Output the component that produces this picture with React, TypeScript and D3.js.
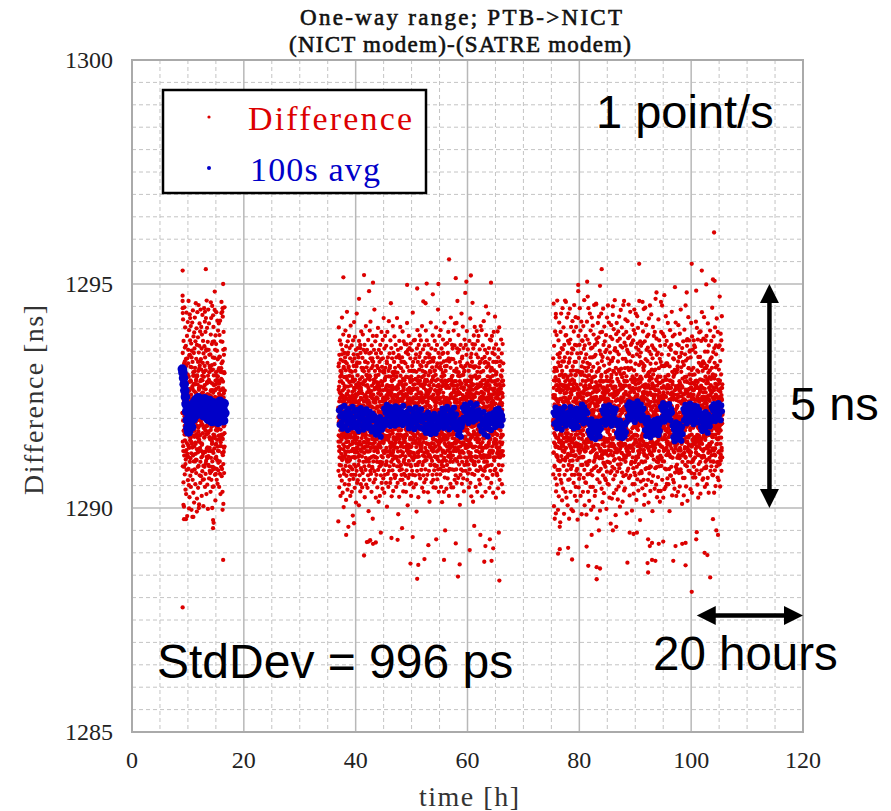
import React from "react";
import * as d3 from "d3";

// ---------- axis / tick data ----------
const X_DOMAIN = [0, 120];
const Y_DOMAIN = [1285, 1300];
const X_TICKS = [0, 20, 40, 60, 80, 100, 120];
const Y_TICKS = [1285, 1290, 1295, 1300];
const TITLE_LINES = ["One-way range; PTB->NICT", "(NICT modem)-(SATRE modem)"];
const LEGEND_LABELS = ["Difference", "100s avg"];

// ---------- measurement segments (hours) ----------
// red "Difference" samples: value = 1285 + code/100 ns, evenly sampled in time
const SEG1_SPAN = [9.05, 16.6];
const SEG2_SPAN = [36.9, 66.4];
const SEG3_SPAN = [75.3, 105.6];

const SEG1_RED = `
712 846 593 764 921 638 805 557 873 672 741 503 822 617 786 948 664 731 575 858 694 903 626 795 541
773 608 862 684 531 817 729 936 585 752 645 884 707 482 834 621 798 673 915 562 747 853 614 706 962
637 793 551 897 718 662 841 524 766 932 603 738 874 651 572 815 693 906 547 782 648 867 725 496 836
851 684 743 582 914 635 772 826 563 707 941 617 795 672 534 883 738 604 846 761 512 892 659 724 805
586 925 704 813 646 553 872 758 621 957 692 784 578 833 715 901 607 746 864 521 796 663 937 631 776
742 624 881 545 806 733 671 953 594 847 764 508 862 652 725 912 573 818 696 634 894 556 783 702 943
664 832 571 786 904 613 753 856 527 716 887 643 795 582 931 686 824 563 741 873 622 768 504 845 703
803 564 727 946 657 861 592 774 698 916 547 836 733 625 893 576 807 672 924 605 752 854 531 714 963
614 778 902 683 552 824 746 635 871 498 795 667 943 596 732 853 627 786 912 566 705 842 658 817 583
727 655 812 578 843 694 536 761 887 612 749 924 681 563 807 735 592 866 643 778 951 604 726 871 547
836 592 684 757 623 904 715 548 796 663 872 737 589 821 656 942 708 574 853 694 763 517 885 642 776
576 743 866 614 937 682 795 563 724 851 607 786 673 918 554 832 745 628 896 713 584 807 661 747 912
694 812 547 778 653 886 722 604 837 576 918 689 763 531 804 647 872 716 592 788 935 658 823 571 736
745 587 803 692 871 536 764 927 618 782 664 853 509 747 893 625 716 842 578 803 684 948 637 762 855`;

const SEG1_RED_B = `
712 648 783 695 627 754 808 673 736 592 761 704 683 827 651 742 719 598 776 664 833 707 629 758 691
668 735 614 797 702 684 759 641 823 716 587 748 673 781 634 706 762 659 842 693 727 611 785 657 738
753 622 709 676 814 643 731 698 584 766 687 745 619 803 728 662 691 777 637 719 856 673 742 604 795
697 776 643 729 608 787 665 718 754 683 631 794 708 657 745 592 826 679 739 714 648 768 696 627 812
738 661 827 684 749 603 712 771 645 693 809 627 756 688 641 733 702 785 616 667 758 723 594 804 679
624 793 701 658 734 817 676 626 748 713 682 765 599 728 851 664 707 742 633 781 695 611 754 687 726
782 695 616 744 671 728 593 803 689 752 634 719 781 653 702 816 674 627 763 709 582 736 692 819 648
656 718 763 627 809 689 741 664 712 587 774 698 633 835 716 659 748 693 611 784 727 674 803 643 766
724 587 746 693 652 779 712 637 794 678 743 601 769 704 627 755 691 838 662 716 783 638 707 751 675
689 751 638 812 719 664 703 786 623 738 691 827 654 767 709 598 743 682 756 634 712 801 667 729 694`;

const SEG2_RED = `
724 583 816 662 903 637 771 546 842 695 613 758 874 572 704 793 648 527 831 682 747 595 865 621 783
653 804 561 738 925 607 716 853 672 534 762 828 586 694 887 631 745 502 815 668 576 792 713 846 614
772 553 684 836 625 743 896 594 663 807 726 518 861 647 572 754 823 695 938 603 786 657 541 714 872
636 847 703 582 761 614 816 675 552 884 738 626 795 563 857 683 742 607 834 527 726 664 907 591 773
805 574 672 748 627 863 536 715 794 643 586 827 696 751 483 632 874 703 565 782 658 843 614 736 915
597 763 834 667 545 726 882 613 694 806 574 747 645 853 512 775 628 704 816 583 934 676 752 556 825
683 624 796 562 857 714 643 775 596 836 667 734 506 873 605 756 692 824 573 648 787 726 864 537 706
846 672 553 768 627 894 705 584 813 656 743 615 792 546 727 835 663 578 887 634 712 776 603 853 685
563 738 805 647 716 593 864 676 524 783 637 826 694 752 585 847 612 906 663 725 552 797 645 814 743
715 853 606 684 774 545 637 824 736 573 875 652 707 493 806 626 763 594 845 672 734 563 896 627 786
662 794 583 916 703 635 847 576 752 687 812 536 726 863 614 773 654 592 834 706 745 476 884 643 697
826 604 738 557 786 672 853 627 714 943 582 765 646 806 693 564 872 735 613 796 523 667 845 704 634
574 747 884 653 603 817 726 546 774 695 836 624 902 585 756 663 797 514 716 853 636 683 764 592 826
737 646 527 806 673 864 594 752 635 713 573 846 684 783 616 893 556 724 667 815 602 774 706 543 875
613 834 697 763 566 725 645 924 584 807 746 662 534 856 704 623 785 574 884 657 736 813 596 675 764
793 556 862 634 716 604 827 685 503 774 653 893 626 745 576 836 697 763 615 547 806 724 658 917 583
684 772 627 845 593 736 663 817 556 707 874 634 793 565 752 686 603 857 724 646 526 784 672 834 617
746 584 803 667 906 624 765 538 715 846 654 596 787 693 826 574 733 883 615 676 752 567 813 645 704
635 864 716 573 794 652 547 836 703 614 765 687 924 593 746 664 802 556 717 853 626 774 486 737 673
817 603 756 694 525 873 646 782 584 726 834 615 673 904 563 795 706 637 857 596 744 662 826 574 715
586 727 836 645 774 563 894 683 746 624 805 537 763 654 872 603 714 826 576 692 785 647 554 866 733
704 656 572 823 615 754 676 847 536 793 634 716 584 865 726 663 913 597 764 642 815 506 737 685 853
843 567 694 765 634 884 605 724 806 574 673 857 626 745 553 786 657 834 703 596 867 636 756 527 794
624 783 735 556 852 674 583 817 697 763 645 936 574 716 826 607 684 775 546 874 663 734 612 806 695
766 683 614 875 573 712 834 645 596 787 726 553 843 674 636 804 492 745 697 856 583 764 624 897 655
596 826 675 746 643 524 793 704 864 615 756 683 574 837 726 603 885 652 784 566 714 846 637 675 773
874 634 776 585 707 816 627 754 664 906 545 735 806 596 683 772 617 854 703 573 647 826 724 536 795
655 746 557 804 686 863 714 605 776 634 835 586 727 673 896 564 753 645 817 694 607 786 874 626 734
713 574 845 626 754 676 535 824 707 643 796 864 615 746 583 774 667 843 514 726 636 806 685 764 596
803 664 725 914 596 767 634 693 856 557 716 784 645 605 834 703 574 746 885 654 793 626 563 827 676
546 774 643 835 716 584 806 663 737 873 615 684 763 594 853 726 637 545 784 676 903 614 745 816 575
736 626 864 695 564 823 756 614 787 665 943 586 714 846 643 775 536 694 813 604 757 884 634 706 653
687 815 575 746 633 897 704 665 823 547 784 617 735 856 596 668 772 513 844 705 627 793 654 583 876
624 757 846 593 703 664 827 536 775 686 914 645 734 568 816 697 623 865 742 584 806 653 727 605 768
775 543 694 817 653 736 596 868 628 783 707 566 846 675 744 615 893 583 714 834 645 527 786 663 827
587 706 786 634 875 603 745 683 554 813 664 925 726 617 776 546 833 694 637 756 586 864 705 643 795
856 664 617 773 546 832 705 627 896 673 744 585 806 635 716 863 563 783 654 912 608 737 676 824 573
644 783 727 586 804 673 913 556 735 647 856 604 693 774 527 847 716 635 795 567 724 886 613 754 685
726 597 853 664 736 615 783 507 826 694 637 776 574 864 706 646 817 586 743 675 934 625 796 554 834
603 838 674 752 583 905 646 726 813 566 695 857 623 764 537 804 683 743 596 876 717 655 784 613 747
817 676 583 864 715 634 776 652 597 842 726 604 895 684 746 563 823 675 713 636 854 577 763 694 625
665 724 806 546 783 696 623 873 735 586 817 664 747 614 923 556 705 836 643 764 607 786 526 844 716
754 614 697 826 576 743 866 605 685 793 635 514 776 856 664 724 597 885 636 753 816 574 704 667 904
596 865 736 615 796 653 547 816 704 766 627 843 686 584 734 895 614 776 656 536 804 725 647 873 685
836 583 724 667 884 604 756 636 814 563 793 706 624 854 677 745 553 826 697 617 772 906 643 714 587
675 742 613 897 634 776 694 526 833 706 647 785 573 863 724 656 806 584 746 634 917 676 755 603 824
724 656 837 583 706 853 617 764 674 536 826 696 743 604 886 635 773 567 814 683 726 594 846 663 737
613 794 566 745 823 674 934 595 716 784 646 857 703 624 766 545 833 686 614 876 745 583 697 806 654
785 626 704 874 556 736 667 813 596 753 884 637 725 663 846 574 706 795 627 534 826 686 754 613 893
647 856 695 606 767 584 843 716 654 927 613 776 587 826 694 746 523 865 723 636 803 665 577 784 716
826 573 744 663 894 625 707 786 544 836 677 614 765 854 596 724 683 903 635 776 563 817 704 647 756
694 735 616 827 657 766 584 876 706 623 793 664 845 553 734 807 646 756 595 866 627 703 784 535 823`;

const SEG2_RED_B = `
703 648 764 691 823 627 738 714 596 782 659 745 673 806 632 719 754 688 611 797 727 664 843 705 682
751 614 729 683 778 642 697 812 659 738 584 766 709 637 792 673 748 619 826 694 733 656 771 608 745
667 793 708 626 754 689 843 635 722 771 648 695 813 604 738 662 781 717 593 749 684 806 641 729 698
782 657 695 747 613 736 676 804 693 628 759 721 648 788 706 574 743 669 817 632 768 701 654 736 612
624 741 786 663 709 592 754 687 736 652 821 678 714 635 769 703 657 842 689 726 614 779 693 641 758
739 681 618 773 698 764 631 718 857 674 703 746 589 762 641 729 694 778 626 713 756 683 807 667 722
693 812 664 729 647 705 782 623 748 696 634 785 713 668 827 657 739 604 773 691 748 627 712 796 653
758 626 734 608 789 652 716 768 685 739 603 727 796 644 704 758 611 687 749 672 834 708 663 727 689
634 761 697 746 667 828 589 703 643 817 724 661 753 692 616 779 736 653 708 786 635 697 768 614 742
707 673 792 635 722 689 746 659 781 612 693 766 628 744 703 687 812 641 726 658 779 714 602 763 681
772 639 711 684 763 603 728 697 646 754 832 673 709 597 738 664 781 716 653 697 744 627 803 684 729
648 747 623 802 676 738 661 789 714 677 628 743 686 768 654 719 597 752 697 823 661 708 745 672 616
716 684 758 652 731 794 617 672 753 706 691 812 646 713 771 638 694 763 621 738 683 757 696 638 784
691 773 642 719 608 766 703 744 629 796 658 723 681 637 804 752 676 612 739 691 803 647 732 769 657
739 612 793 681 748 657 721 634 688 752 713 606 767 729 663 696 841 682 728 654 717 593 779 703 743
663 728 687 759 627 812 674 707 782 643 738 693 754 618 687 743 659 789 713 636 769 704 662 748 608
786 697 648 713 776 684 598 753 664 729 776 637 703 848 672 628 751 697 744 683 627 792 718 676 733
622 758 717 641 693 737 768 618 728 694 653 781 726 669 742 593 714 763 637 806 689 741 613 697 766
743 666 786 704 653 623 747 691 806 659 717 744 618 776 698 734 662 708 788 649 723 674 753 721 682
692 731 614 767 726 784 667 734 623 778 602 689 758 693 627 809 676 647 739 714 661 819 698 631 747
758 642 706 683 639 718 792 657 743 701 664 827 684 747 658 712 776 603 768 688 738 623 709 782 664
614 786 673 748 802 656 697 763 688 627 758 703 643 719 783 665 738 692 621 754 699 746 668 713 836
728 695 759 618 714 763 638 826 672 746 694 612 781 664 707 748 629 684 814 673 634 787 742 657 701
681 753 632 794 667 702 744 596 719 683 807 738 652 729 614 797 705 761 663 736 708 681 594 772 649
746 608 719 688 753 629 687 772 641 763 718 659 742 693 836 647 688 733 706 587 764 719 652 809 688
673 794 651 736 604 781 716 663 802 628 692 748 607 773 658 724 612 796 679 742 653 784 729 641 713
717 662 783 697 746 673 829 708 637 714 773 681 724 656 769 704 743 668 738 617 697 829 674 768 632
639 734 706 624 688 753 611 749 697 786 642 717 793 638 701 782 656 721 603 774 712 668 747 693 759
764 687 628 773 719 646 736 684 758 609 738 664 703 751 627 688 811 742 676 649 766 703 631 726 689
698 759 716 652 803 693 758 627 713 672 794 623 756 684 743 657 729 613 768 697 624 743 778 658 712
627 712 769 688 641 734 673 797 646 748 688 769 642 718 674 806 693 748 659 721 783 634 706 749 673
783 641 697 739 756 612 784 706 669 723 651 736 687 597 753 719 638 772 704 688 646 758 692 617 794
654 768 623 707 682 779 658 743 816 637 707 681 774 659 728 637 764 686 748 603 735 671 813 683 727
721 603 748 794 637 708 726 654 699 768 613 757 694 728 789 662 703 627 791 676 711 769 648 738 667
688 726 681 653 774 664 823 696 737 592 779 713 643 803 636 748 684 759 612 742 688 627 757 704 749
744 679 734 712 618 746 687 612 768 704 664 727 786 683 709 591 776 718 676 767 639 702 684 779 617
603 747 658 781 693 726 637 761 694 742 818 643 708 754 618 774 652 698 729 628 792 746 668 721 693
767 688 812 627 746 673 708 782 623 687 731 697 664 739 763 689 718 807 643 714 671 783 732 646 758
696 733 649 716 684 798 652 719 754 643 699 774 622 687 747 704 633 763 686 759 617 698 754 687 729
731 624 776 698 613 742 769 673 708 796 627 688 758 712 642 729 783 661 719 694 748 663 703 617 774`;

const SEG3_RED = `
693 834 575 746 956 624 785 504 862 667 726 594 813 476 752 643 894 705 566 792 636 925 684 537 774
743 616 886 675 552 806 714 963 637 764 585 843 697 496 736 825 606 874 653 526 783 707 914 574 836
585 796 664 846 723 468 765 634 893 563 817 686 934 616 744 556 857 705 646 517 806 673 774 946 627
854 706 543 772 645 903 594 736 827 487 683 864 625 756 574 836 714 963 606 783 536 885 667 745 694
634 886 757 523 815 676 584 925 704 765 616 846 506 794 657 873 563 736 934 686 824 596 715 476 867
776 564 834 694 945 605 746 656 876 536 724 806 587 904 663 765 497 845 626 713 574 856 787 646 917
606 816 674 493 763 854 627 726 556 894 686 784 953 637 574 826 706 527 864 745 616 796 664 926 547
826 645 904 716 583 775 516 863 664 734 607 845 696 474 806 636 756 924 575 703 884 546 764 656 835
565 754 686 864 623 946 735 574 804 667 896 527 776 635 846 706 596 916 727 486 816 654 746 874 614
716 873 596 784 536 826 674 906 614 756 567 855 646 724 964 585 796 506 863 685 626 834 736 557 774
884 627 765 556 843 694 485 806 653 737 916 596 824 706 575 876 634 767 536 814 664 946 604 754 686
656 796 516 867 726 605 774 934 576 836 684 754 547 896 624 716 856 496 785 646 806 584 925 704 736
791 573 858 672 907 547 743 629 815 503 768 887 631 705 589 953 662 838 607 732 527 864 699 771 614
538 842 702 618 781 956 593 877 684 759 622 804 477 733 869 564 697 823 641 913 718 582 762 668 881
763 661 927 582 738 812 633 557 851 709 494 774 627 892 673 748 587 843 719 934 612 797 543 683 828
619 893 747 642 513 837 691 782 573 945 728 601 864 657 762 533 818 684 905 597 753 638 872 721 566
848 592 677 803 758 562 886 621 739 498 853 687 793 581 925 713 648 772 554 834 669 952 603 743 709
674 763 552 914 638 861 717 523 809 655 784 601 847 733 578 882 691 465 829 627 753 908 582 797 644
737 521 828 694 877 592 768 653 931 617 703 835 564 748 672 899 533 804 639 771 588 852 725 964 609
573 857 632 771 708 484 813 739 665 888 541 799 692 913 628 754 849 581 717 659 873 519 762 827 683
894 687 782 548 843 728 611 927 589 804 662 741 878 503 776 633 709 862 598 942 735 647 811 557 768
623 739 903 664 579 792 858 691 514 767 833 608 719 953 642 571 887 723 668 801 539 784 693 869 613
782 544 718 833 687 921 603 759 862 574 679 893 632 794 488 827 701 618 853 742 583 917 652 729 848
663 879 588 731 954 621 808 567 722 844 619 773 528 883 697 758 634 938 572 811 703 669 864 598 743
812 639 764 602 868 494 737 909 658 781 553 839 704 627 874 589 762 681 532 897 643 807 728 943 579
553 788 682 889 713 648 573 822 749 934 607 701 858 663 518 797 724 592 843 677 928 564 753 638 867
729 902 613 778 539 853 684 742 598 819 652 962 577 721 838 624 789 473 872 708 631 793 559 847 692
862 582 747 653 824 578 913 703 639 772 544 868 683 758 602 894 648 813 737 563 944 629 774 507 718
643 817 529 872 693 768 604 947 723 587 832 679 794 551 908 713 637 853 589 743 688 883 612 769 828
753 672 858 563 798 633 887 512 774 708 923 628 732 849 577 682 804 659 952 593 767 538 822 704 637
592 843 719 932 624 752 558 809 684 863 617 778 493 834 727 643 904 572 798 662 857 714 608 884 748
807 628 772 688 543 893 729 634 853 589 763 967 662 719 823 552 787 643 878 604 738 842 524 699 773
684 752 613 847 701 569 793 664 921 538 746 812 627 689 874 593 758 642 833 514 779 698 862 617 734
538 826 748 637 893 672 594 768 843 612 707 952 563 782 653 728 889 604 743 678 523 817 693 758 632
769 604 883 542 736 658 817 709 588 864 632 793 714 547 928 673 748 586 823 697 634 873 554 786 648
823 693 566 774 648 913 732 623 797 679 553 842 618 767 704 587 859 742 493 816 664 729 897 573 706
614 784 697 853 572 743 864 592 718 633 938 682 758 528 804 647 776 612 883 708 563 834 742 657 793
746 557 832 679 624 798 543 887 658 763 704 579 847 718 638 914 592 772 683 846 527 709 653 803 587
597 866 643 728 809 584 753 698 536 827 682 908 617 749 863 578 694 837 629 762 713 548 889 634 778
838 629 774 586 943 702 663 814 579 733 846 618 693 772 509 857 734 603 789 648 826 567 707 872 652
663 742 528 819 687 754 623 898 567 792 714 636 843 596 727 683 952 612 764 829 548 697 783 658 874
728 593 862 704 648 877 516 763 684 834 603 749 926 657 583 812 738 629 874 697 766 583 849 623 707
852 674 617 787 542 836 693 768 624 913 729 578 808 664 747 534 883 716 642 797 603 853 689 764 568
607 813 753 649 874 592 728 863 687 576 798 644 734 859 613 702 568 847 768 632 916 696 623 784 742
773 648 584 902 728 663 807 552 743 692 876 619 768 523 837 678 754 598 824 713 643 892 576 738 659
648 759 837 603 763 532 894 679 818 647 723 873 584 703 786 654 937 612 748 679 823 563 806 689 724
827 566 704 878 617 784 663 743 926 589 823 694 632 766 547 849 718 652 793 603 874 737 589 812 678
593 884 668 733 553 817 726 608 787 674 849 567 912 688 743 623 802 679 534 863 708 768 643 827 612
718 627 807 674 896 643 763 583 833 712 604 788 663 873 593 729 836 618 758 682 947 574 792 658 747
664 798 573 848 718 604 883 743 628 763 534 857 698 619 824 747 584 903 633 777 692 549 814 726 863
843 716 642 769 593 923 678 749 602 818 684 737 568 893 653 786 708 624 859 562 743 809 678 597 784
627 778 863 598 736 673 548 828 759 643 889 606 723 798 657 874 583 744 634 928 697 768 613 853 708`;

const SEG3_RED_B = `
684 752 697 623 768 714 646 805 678 731 592 747 703 662 784 719 638 693 812 657 741 689 618 763 706
729 613 774 688 742 657 719 786 634 702 769 647 728 817 681 743 604 758 697 633 776 715 668 724 649
641 798 663 716 827 694 608 738 763 679 714 638 792 656 703 747 682 629 774 718 657 797 683 738 612
767 684 721 649 703 773 659 697 724 613 788 702 667 742 621 689 768 734 651 709 826 642 748 697 783
703 637 758 694 618 729 797 633 753 687 648 761 719 594 776 651 714 807 673 738 688 617 769 654 719
656 779 689 737 764 642 708 684 618 797 709 673 806 687 742 664 733 587 721 769 643 706 752 691 628
748 692 612 803 673 718 754 726 683 641 747 627 683 748 613 797 683 758 639 693 744 673 803 728 664
613 724 747 662 739 686 631 771 708 763 682 813 648 706 768 636 709 643 783 718 602 754 687 637 752
794 668 703 728 597 756 712 647 786 654 726 697 741 657 729 683 821 674 732 658 769 713 648 716 689
672 746 638 781 706 663 836 698 627 719 758 638 713 792 662 747 603 718 697 742 631 688 763 794 642
726 613 769 654 748 729 677 741 763 684 616 774 697 658 728 703 772 639 806 674 718 653 742 611 737
658 783 707 693 632 784 614 703 658 793 742 692 653 747 611 768 688 757 627 713 783 694 621 769 703
743 697 652 746 718 647 758 691 736 627 708 766 624 784 693 654 732 688 744 603 759 671 806 687 648
617 738 783 629 687 711 693 822 679 753 663 718 689 737 774 619 704 643 791 682 727 638 713 754 696
782 656 713 768 643 806 637 714 748 606 729 689 761 624 706 758 683 769 658 724 697 752 633 687 741
694 726 624 702 788 669 743 684 597 758 694 643 808 697 654 719 628 741 703 639 773 608 764 718 673
653 798 747 681 738 623 689 767 713 676 742 721 639 773 681 747 697 618 754 772 656 726 688 643 812
737 642 696 754 612 773 708 634 753 698 627 783 694 716 628 691 813 673 709 637 738 694 751 697 624
708 769 639 713 697 746 654 827 669 721 787 656 729 603 764 698 659 732 678 794 613 768 632 744 766
641 713 781 663 758 688 734 602 743 784 653 701 776 689 743 614 723 767 646 701 749 682 717 661 703
786 674 627 739 694 619 762 708 689 637 718 768 643 727 698 781 652 694 826 653 718 739 604 788 658
662 748 703 687 822 741 667 753 629 807 679 622 759 684 617 746 704 639 757 689 643 776 697 724 731
719 617 758 643 706 677 796 641 712 753 696 739 688 802 673 731 589 784 669 728 792 621 758 673 647
673 792 684 737 653 724 618 789 687 664 724 647 773 638 753 692 767 708 631 744 684 704 643 737 694
753 643 712 809 689 763 687 704 646 738 591 784 707 663 724 648 718 659 793 602 763 688 732 652 779
608 737 658 694 743 608 749 666 793 718 659 727 638 749 697 817 683 741 687 723 636 752 689 784 716
744 684 772 627 714 682 732 629 708 751 692 663 786 711 653 706 734 676 618 766 703 647 819 708 642
688 757 713 669 627 796 658 773 684 643 768 703 619 738 784 672 639 698 754 687 729 768 664 716 743
727 613 693 748 782 646 717 698 754 692 627 752 693 664 707 753 719 808 643 714 653 697 743 633 687
649 768 741 702 659 723 693 612 727 816 704 682 747 628 773 618 766 672 738 694 783 611 704 764 698
776 694 628 758 703 687 804 749 643 679 738 617 714 769 682 739 652 707 621 753 688 743 674 727 653
697 632 782 673 741 614 758 686 712 763 648 793 681 647 728 697 781 634 756 709 627 764 719 689 812
642 719 697 736 662 798 626 723 778 639 702 678 754 717 602 769 693 743 688 637 779 694 652 748 707
763 679 744 609 719 763 693 658 697 742 776 643 708 688 783 653 709 624 772 713 658 704 768 637 683
704 748 654 781 694 652 739 804 618 713 662 729 767 636 743 701 673 787 647 729 693 742 616 773 726
631 693 817 688 643 729 684 741 768 697 627 758 689 713 659 748 614 733 692 684 812 678 743 708 658
758 724 663 714 778 607 748 669 702 638 784 694 632 779 704 681 751 707 663 743 721 637 792 674 739
689 641 752 697 626 774 713 683 757 673 722 647 813 688 726 633 797 658 728 769 603 713 682 746 697
742 789 678 633 748 691 617 796 664 728 753 684 719 656 692 748 673 712 643 738 776 654 724 603 763
667 703 736 762 688 742 657 718 683 784 612 709 748 673 619 767 708 687 752 628 697 741 689 776 712`;

// sparse red outliers: [time h, value ns]
const SEG1_OUTLIERS = [
  [9.06, 1295.3], [13.2, 1295.33], [16.3, 1295.0], [14.8, 1294.83], [9.05, 1294.74],
  [9.05, 1294.62], [9.07, 1294.46], [9.08, 1294.35], [14.1, 1294.59], [13.05, 1294.38],
  [16.0, 1294.6], [16.2, 1294.46], [16.15, 1294.38], [14.5, 1294.3], [10.4, 1294.24],
  [9.2, 1290.07], [9.3, 1289.75], [10.97, 1289.8], [14.5, 1289.55], [14.6, 1289.67],
  [14.35, 1290.0], [11.95, 1290.0], [16.3, 1288.84], [9.06, 1287.78], [9.65, 1289.75],
  [11.6, 1289.92], [14.5, 1289.73], [16.2, 1289.96], [10.2, 1289.99], [10.8, 1289.8],
];
const SEG2_OUTLIERS = [
  [37.8, 1295.15], [56.7, 1295.55], [43.1, 1295.03], [49.2, 1294.98], [52.7, 1295.01],
  [54.8, 1295.0], [57.9, 1295.13], [60.6, 1295.19], [59.8, 1295.05], [64.2, 1295.03],
  [42.4, 1294.84], [51.0, 1294.9], [53.8, 1294.77], [59.6, 1294.8], [40.6, 1294.67],
  [52.1, 1294.61], [52.5, 1294.57], [58.2, 1294.62], [60.9, 1294.58], [63.3, 1294.5],
  [46.3, 1294.57], [41.5, 1295.2],
  [36.9, 1289.7], [38.7, 1289.58], [39.7, 1289.66], [41.5, 1288.94], [42.0, 1289.24],
  [42.6, 1289.28], [43.1, 1289.2], [46.4, 1289.33], [47.5, 1289.29], [49.8, 1288.76],
  [51.2, 1288.73], [51.0, 1288.42], [52.3, 1288.86], [53.0, 1289.17], [54.4, 1289.3],
  [56.0, 1289.5], [55.8, 1288.84], [57.9, 1289.21], [58.3, 1288.47], [58.6, 1288.74],
  [60.4, 1289.06], [61.2, 1289.6], [63.0, 1288.8], [64.3, 1288.82], [63.2, 1289.15],
  [64.0, 1289.3], [64.6, 1289.1], [65.6, 1289.45], [65.7, 1288.38], [42.3, 1289.25],
  [43.6, 1289.23], [38.3, 1289.4], [44.5, 1289.45], [48.3, 1289.55], [50.2, 1289.35],
  [62.3, 1289.4],
];
const SEG3_OUTLIERS = [
  [90.7, 1295.45], [100.1, 1295.45], [84.0, 1295.33], [101.9, 1295.3], [103.9, 1295.1],
  [104.2, 1295.07], [81.4, 1295.05], [79.8, 1294.98], [79.8, 1294.84], [83.7, 1294.96],
  [102.7, 1294.99], [97.1, 1294.93], [99.2, 1294.81], [100.9, 1294.85], [93.8, 1294.81],
  [95.2, 1294.75], [81.5, 1294.72], [105.1, 1294.72], [104.1, 1296.15], [77.6, 1294.6],
  [88.0, 1294.62], [91.3, 1294.6], [94.6, 1294.6], [86.0, 1294.5], [75.8, 1294.33],
  [83.0, 1294.55],
  [75.8, 1289.88], [76.5, 1289.58], [76.5, 1289.08], [78.0, 1289.11], [78.7, 1288.85],
  [76.2, 1288.98], [81.3, 1289.14], [81.6, 1288.71], [83.1, 1288.68], [83.7, 1288.65],
  [83.1, 1288.41], [82.2, 1289.4], [83.5, 1289.5], [86.0, 1289.5], [86.6, 1289.58],
  [88.6, 1288.78], [89.0, 1289.45], [89.7, 1289.42], [90.3, 1289.45], [92.3, 1289.3],
  [93.0, 1289.22], [94.2, 1289.2], [95.0, 1289.25], [92.6, 1289.15], [92.2, 1288.77],
  [93.0, 1288.84], [93.6, 1288.82], [92.3, 1288.56], [96.8, 1288.82], [97.2, 1289.15],
  [98.4, 1289.2], [99.0, 1289.22], [99.0, 1288.72], [100.1, 1288.13], [100.9, 1289.3],
  [101.0, 1289.46], [102.4, 1289.0], [102.9, 1288.95], [103.4, 1288.45], [104.5, 1289.5],
  [104.8, 1289.4], [103.9, 1289.75],
];

// blue "100s avg": value = 1290 + code/100 ns, evenly sampled in time
const BLUE1_SPAN = [9.0, 16.6];
const BLUE2_SPAN = [37.0, 66.3];
const BLUE3_SPAN = [75.4, 105.5];

const SEG1_BLUE = `
310 302 290 276 262 248 232 215 196 178 170 186 205 222 194 181 210 228 199 215
237 224 208 243 230 219 246 233 212 238 225 241 218 232 206 227 244 214 236 221
209 232 198 224 240 215 203 229 193 217 235 208 222 197 213 230 204 219 191 226
211 238 199 216 228 205 220 195 233 212`;

const SEG2_BLUE = `
218 186 205 224 191 177 210 199 228 183 203 215 194 174 221 206 188 212 197 180 226 201 192 216 185
204 178 219 190 172 208 197 223 184 201 214 175 193 211 187 220 198 179 206 192 215 181 203 171 210
196 172 205 181 164 193 177 199 168 186 203 159 190 175 197 182
222 197 213 186 230 204 191 217 208 183 225 199 211 190 219 205 184 227 196 214 202 188 223 209 193 216 200 185 228 207 194 212 198
214 189 207 178 222 196 203 185 219 194 211 176 205 224 190 201 182 216 197 208 179 220 193 206
198 175 207 186 168 201 182 213 171 194 188 165 205 179 196 173 210 184 167 199 187 176 203 181 192
211 187 203 222 194 179 215 198 207 184 226 192 205 176 218 201 189 213 196 181 224 203 190 209
175 192 163 184 170 197 159 181 188
224 202 217 231 196 213 226 205 190 219 208 234 199 221 211 193 228 206 215 197 232 210 201 218
207 183 201 172 196 188 214 165 193 179 205 186 160 198 177 209 189 174 200 192
212 189 205 181 219 196 208 185 222 199 191 214 184 206 197`;

const SEG3_BLUE = `
213 188 207 224 192 178 216 201 185 221 196 209 175 218 203 190 226 198 184 211 194 206
189 214 198 225 183 207 193 219 178 204 212 187 222 196 181 210 201
220 196 214 231 203 189 225 209 198 217 192 212
195 172 188 163 182 198 157 176 191 168 185 154 179 193 166 186 171 160 189 177 194
218 193 211 227 199 186 220 207 214 190 229 202 196 216 184 223 205 192 212 198 221
191 167 184 158 176 195 163 181 171 156 188 174 160 186 169 192
229 204 221 236 210 198 226 214 233 205 219 192 228 211 203 238 216 200 224 209 231 196 218 207 222
198 174 190 161 185 201 169 182 194 158 177 192 171 187 164 196 180 167 189 176 199 163 184 172 191
226 201 219 234 206 193 224 211 229 198 215 204 232 209 196 221 213
184 158 176 149 168 191 162 179 153 172 187 160 174 150 181 165
221 196 214 230 203 189 225 209 218 194 233 206 199 224 212 187 228 201 215 195 227 207 191 219 210
206 180 198 172 211 189 201 176 214 185 195 168 208 190 182 203 193
225 199 218 232 206 194 227 211 220 201 234 208 215 196 229 216`;

const RED = "#dc0000";
const BLUE = "#0000c8";

function parseCodes(s: string): number[] {
  return s.trim().split(/\s+/).map(Number);
}
function sampled(codes: string, span: number[], base: number, div: number) {
  const c = parseCodes(codes);
  const n = c.length;
  return c.map((v, i) => [span[0] + ((span[1] - span[0]) * i) / (n - 1), base + v / div]);
}

export default function App() {
  const x = d3.scaleLinear().domain(X_DOMAIN).range([132, 803]);
  const y = d3.scaleLinear().domain(Y_DOMAIN).range([732, 60]);
  const [x0, x1] = x.range();
  const [y0, y1] = y.range();

  const red = [
    ...sampled(SEG1_RED, SEG1_SPAN, 1285, 100),
    ...sampled(SEG1_RED_B, SEG1_SPAN, 1285, 100),
    ...sampled(SEG2_RED, SEG2_SPAN, 1285, 100),
    ...sampled(SEG2_RED_B, SEG2_SPAN, 1285, 100),
    ...sampled(SEG3_RED, SEG3_SPAN, 1285, 100),
    ...sampled(SEG3_RED_B, SEG3_SPAN, 1285, 100),
    ...SEG1_OUTLIERS,
    ...SEG2_OUTLIERS,
    ...SEG3_OUTLIERS,
  ];
  const blueBig = sampled(SEG1_BLUE, BLUE1_SPAN, 1290, 100);
  const blueSmall = [
    ...sampled(SEG2_BLUE, BLUE2_SPAN, 1290, 100),
    ...sampled(SEG3_BLUE, BLUE3_SPAN, 1290, 100),
  ];

  const xMinor = d3.range(0, 120.001, 5).filter((v) => v % 20 !== 0);
  const yMinor = d3.range(1285, 1300.001, 0.5).filter((v) => Math.abs(v % 5) > 1e-6);
  const xMajor = X_TICKS.slice(1, -1);
  const yMajor = Y_TICKS.slice(1, -1);

  const serif = "'Liberation Serif', 'Times New Roman', serif";
  const sans = "'Liberation Sans', Arial, sans-serif";

  // arrows (annotation)
  const vArrowX = x(114);
  const vTop = y(1295);
  const vBot = y(1290);
  const hY = y(1287.6);
  const hL = x(101);
  const hR = x(120);
  const ah = 19;
  const aw = 9.5;

  return (
    <svg
      width={891}
      height={811}
      style={{ position: "absolute", left: 0, top: 0, background: "#fff" }}
    >
      <rect x={0} y={0} width={891} height={811} fill="#fff" />
      {/* grid */}
      <g>
        {xMinor.map((v) => (
          <line key={"xm" + v} x1={x(v)} x2={x(v)} y1={y1} y2={y0} stroke="#c4c4c4" strokeWidth={1} strokeDasharray="4,3" />
        ))}
        {yMinor.map((v) => (
          <line key={"ym" + v} x1={x0} x2={x1} y1={y(v)} y2={y(v)} stroke="#c4c4c4" strokeWidth={1} strokeDasharray="4,3" />
        ))}
        {xMajor.map((v) => (
          <line key={"xM" + v} x1={x(v)} x2={x(v)} y1={y1} y2={y0} stroke="#b8b8b8" strokeWidth={1.5} />
        ))}
        {yMajor.map((v) => (
          <line key={"yM" + v} x1={x0} x2={x1} y1={y(v)} y2={y(v)} stroke="#b8b8b8" strokeWidth={1.5} />
        ))}
        <rect x={x0} y={y1} width={x1 - x0} height={y0 - y1} fill="none" stroke="#aaaaaa" strokeWidth={2} />
      </g>

      {/* data */}
      <g fill={RED}>
        {red.map((p, i) => (
          <circle key={"r" + i} cx={x(p[0])} cy={y(p[1])} r={2.15} />
        ))}
      </g>
      <g fill={BLUE}>
        {blueSmall.map((p, i) => (
          <circle key={"b" + i} cx={x(p[0])} cy={y(p[1])} r={3.1} />
        ))}
        {blueBig.map((p, i) => (
          <circle key={"B" + i} cx={x(p[0])} cy={y(p[1])} r={4.8} />
        ))}
      </g>

      {/* tick labels */}
      {Y_TICKS.map((v) => (
        <text key={"yt" + v} x={113} y={y(v)} textAnchor="end" dominantBaseline="central" fontFamily={serif} fontSize={24} fill="#222">
          {v}
        </text>
      ))}
      {X_TICKS.map((v) => (
        <text key={"xt" + v} x={x(v)} y={760} textAnchor="middle" dominantBaseline="central" fontFamily={serif} fontSize={24} fill="#222">
          {v}
        </text>
      ))}

      {/* axis titles */}
      <text x={469} y={806} textAnchor="middle" fontFamily={serif} fontSize={28} fill="#333" textLength={100}>
        time [h]
      </text>
      <text
        transform={`translate(43, ${400}) rotate(-90)`}
        textAnchor="middle"
        fontFamily={serif}
        fontSize={28}
        fill="#333"
        textLength={190}
      >
        Difference [ns]
      </text>

      {/* title */}
      <text x={461} y={25} textAnchor="middle" fontFamily={serif} fontSize={23} fill="#111" stroke="#111" strokeWidth={0.6} textLength={322}>
        {TITLE_LINES[0]}
      </text>
      <text x={460} y={52} textAnchor="middle" fontFamily={serif} fontSize={23} fill="#111" stroke="#111" strokeWidth={0.6} textLength={342}>
        {TITLE_LINES[1]}
      </text>

      {/* legend */}
      <rect x={163} y={90} width={263} height={103} fill="#fff" stroke="#000" strokeWidth={2.5} />
      <circle cx={209} cy={117} r={1.6} fill={RED} />
      <circle cx={209} cy={168} r={2} fill={BLUE} />
      <text x={248} y={130} fontFamily={serif} fontSize={34} fill={RED} textLength={164}>
        {LEGEND_LABELS[0]}
      </text>
      <text x={250} y={181} fontFamily={serif} fontSize={34} fill={BLUE} textLength={130}>
        {LEGEND_LABELS[1]}
      </text>

      {/* annotations */}
      <text x={596} y={128} fontFamily={sans} fontSize={47} fill="#000">
        1 point/s
      </text>
      <text x={790} y={420} fontFamily={sans} fontSize={47} fill="#000">
        5 ns
      </text>
      <text x={157} y={678} fontFamily={sans} fontSize={48} fill="#000">
        StdDev = 996 ps
      </text>
      <text x={653} y={670} fontFamily={sans} fontSize={47.5} fill="#000">
        20 hours
      </text>

      {/* vertical 5 ns arrow */}
      <line x1={vArrowX} x2={vArrowX} y1={vTop + ah - 2} y2={vBot - ah + 2} stroke="#000" strokeWidth={4.5} />
      <path d={`M${vArrowX},${vTop} L${vArrowX - aw},${vTop + ah} L${vArrowX + aw},${vTop + ah} Z`} fill="#000" />
      <path d={`M${vArrowX},${vBot} L${vArrowX - aw},${vBot - ah} L${vArrowX + aw},${vBot - ah} Z`} fill="#000" />

      {/* horizontal 20 hours arrow */}
      <line x1={hL + ah - 2} x2={hR - ah + 2} y1={hY} y2={hY} stroke="#000" strokeWidth={4.5} />
      <path d={`M${hL},${hY} L${hL + ah},${hY - aw} L${hL + ah},${hY + aw} Z`} fill="#000" />
      <path d={`M${hR},${hY} L${hR - ah},${hY - aw} L${hR - ah},${hY + aw} Z`} fill="#000" />
    </svg>
  );
}
